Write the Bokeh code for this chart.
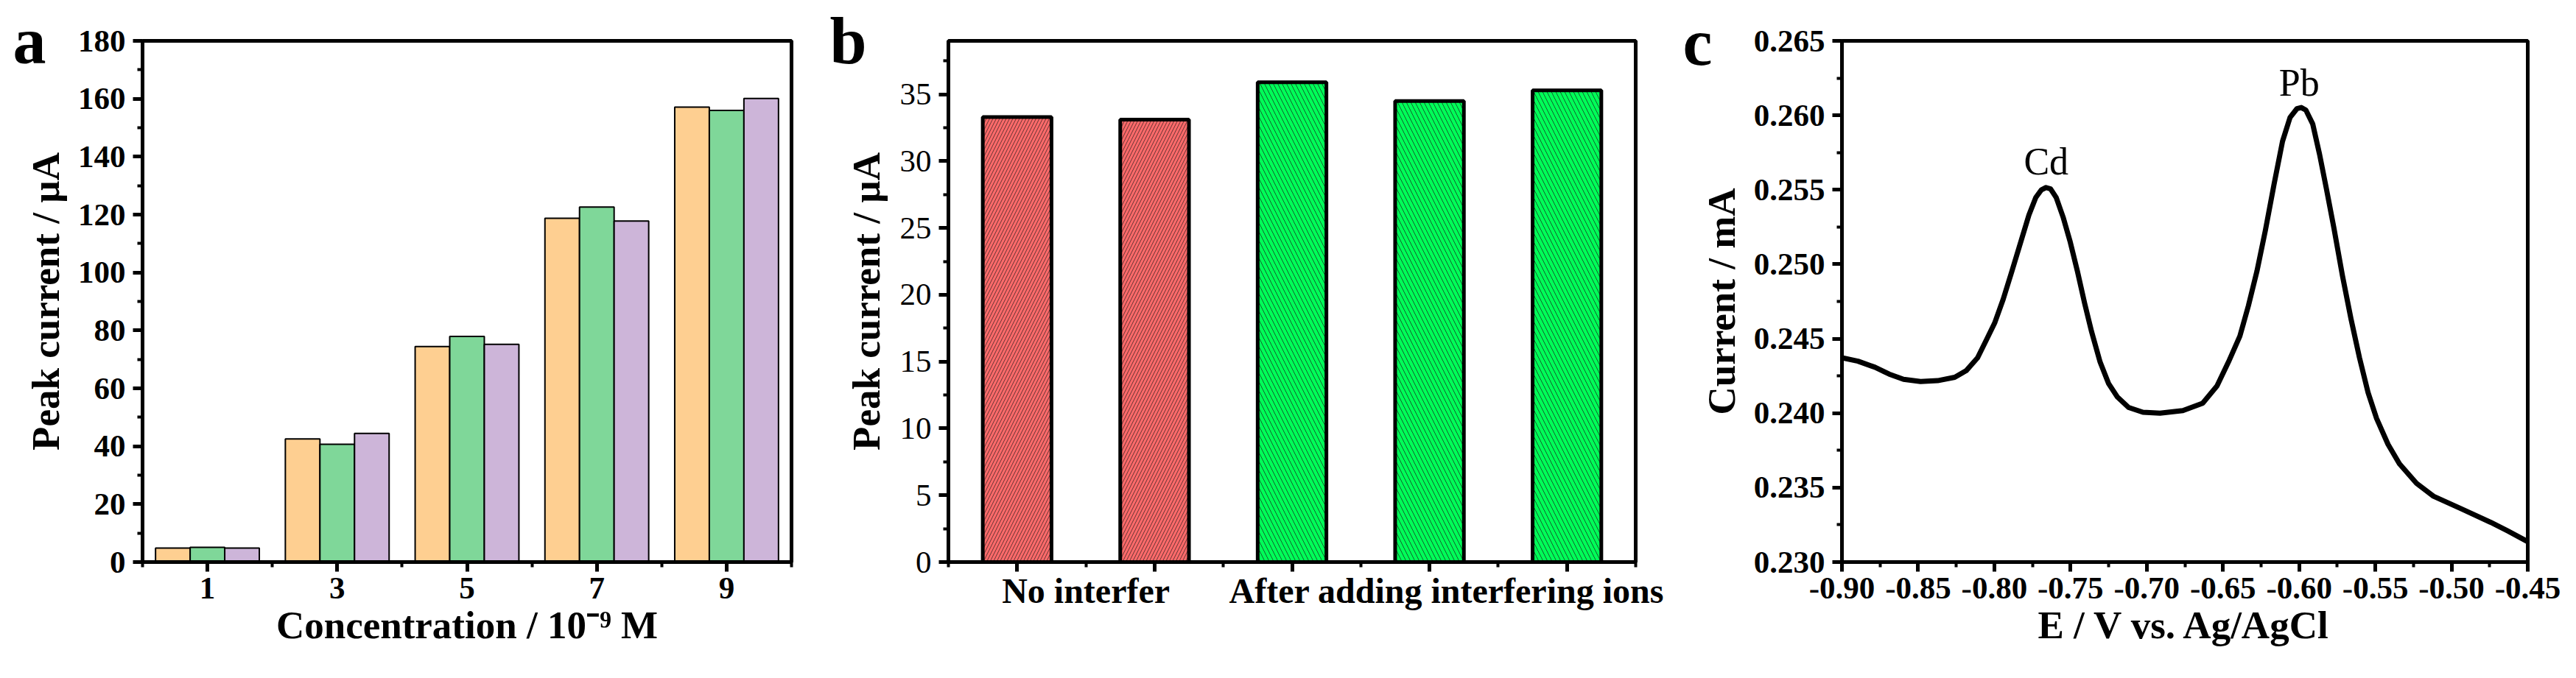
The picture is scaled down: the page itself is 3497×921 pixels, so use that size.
from bokeh.plotting import figure
from bokeh.layouts import row
from bokeh.models import Range1d, FixedTicker, NumeralTickFormatter, Label, LinearAxis
from bokeh.transform import dodge
from bokeh.embed import file_html
from bokeh.resources import INLINE

FONT = "Liberation Serif"

# ---------------- Panel a data ----------------
conc = [1, 3, 5, 7, 9]
conc_labels = {1: "1", 3: "3", 5: "5", 7: "7", 9: "9"}
series_orange = [4.8, 42.5, 74.4, 118.7, 157.1]
series_green = [5.1, 40.7, 77.9, 122.6, 156.0]
series_purple = [4.8, 44.4, 75.2, 117.8, 160.1]
a_yticks = [0, 20, 40, 60, 80, 100, 120, 140, 160, 180]
a_yminor = [10, 30, 50, 70, 90, 110, 130, 150, 170]
a_xminor = [0, 2, 4, 6, 8, 10]

# ---------------- Panel b data ----------------
b_pos = [1, 2, 3, 4, 5]
b_vals = [33.3, 33.1, 35.9, 34.5, 35.3]
b_colors = ["#FF6A6A", "#FF6A6A", "#00FF58", "#00FF58", "#00FF58"]
b_hatch = ["/", "/", "\\", "\\", "\\"]
b_hatch_scale = [9, 9, 12, 12, 12]
b_group_labels = ["No interfer", "After adding interfering ions"]
b_group_pos = [1.5, 4.125]
b_yticks = [0, 5, 10, 15, 20, 25, 30, 35]
b_yminor = [2.5, 7.5, 12.5, 17.5, 22.5, 27.5, 32.5, 37.5]
b_xminor = [0.5, 1.5, 2.5, 3.5, 4.5, 5.5]

# ---------------- Panel c data ----------------
E = [-0.9000, -0.8895, -0.8783, -0.8690, -0.8596, -0.8484, -0.8372, -0.8260,
     -0.8185, -0.8110, -0.8054, -0.7998, -0.7942, -0.7885, -0.7829, -0.7773,
     -0.7728, -0.7691, -0.7661, -0.7631, -0.7594, -0.7549, -0.7504, -0.7455,
     -0.7407, -0.7362, -0.7306, -0.7250, -0.7194, -0.7119, -0.7025, -0.6913,
     -0.6763, -0.6633, -0.6539, -0.6464, -0.6389, -0.6333, -0.6277, -0.6221,
     -0.6165, -0.6109, -0.6060, -0.6015, -0.5986, -0.5956, -0.5911, -0.5866,
     -0.5821, -0.5772, -0.5716, -0.5660, -0.5604, -0.5548, -0.5492, -0.5417,
     -0.5342, -0.5230, -0.5118, -0.4931, -0.4744, -0.4632, -0.4500]
I = [0.24372, 0.24349, 0.24308, 0.24262, 0.24227, 0.24212, 0.24218, 0.24241,
     0.24285, 0.24372, 0.24488, 0.24605, 0.24765, 0.24953, 0.25142, 0.25331,
     0.25448, 0.25500, 0.25515, 0.25506, 0.25448, 0.25317, 0.25157, 0.24953,
     0.24735, 0.24547, 0.24343, 0.24198, 0.24110, 0.24038, 0.24006, 0.24000,
     0.24017, 0.24067, 0.24183, 0.24343, 0.24517, 0.24721, 0.24953, 0.25230,
     0.25535, 0.25826, 0.25985, 0.26044, 0.26052, 0.26035, 0.25942, 0.25738,
     0.25506, 0.25244, 0.24924, 0.24634, 0.24372, 0.24139, 0.23965, 0.23791,
     0.23660, 0.23529, 0.23442, 0.23355, 0.23267, 0.23209, 0.23137]
c_xticks = [-0.90, -0.85, -0.80, -0.75, -0.70, -0.65, -0.60, -0.55, -0.50, -0.45]
c_xminor = [-0.875, -0.825, -0.775, -0.725, -0.675, -0.625, -0.575, -0.525, -0.475]
c_yticks = [0.230, 0.235, 0.240, 0.245, 0.250, 0.255, 0.260, 0.265]
c_yminor = [0.2325, 0.2375, 0.2425, 0.2475, 0.2525, 0.2575, 0.2625]
peak_names = ["Cd", "Pb"]
peak_pos = [(-0.766, 0.2569), (-0.600, 0.2622)]

H = 905


def style(p, xlabel, ylabel, bold_ticks=True):
    p.background_fill_color = "white"
    p.border_fill_color = "white"
    p.outline_line_color = "black"
    p.outline_line_width = 5
    p.outline_line_alpha = 1
    p.grid.visible = False
    p.xaxis.axis_label = xlabel
    p.yaxis.axis_label = ylabel
    for ax in [p.xaxis[0], p.yaxis[0]]:
        ax.axis_line_width = 5
        ax.axis_line_color = "black"
        ax.major_tick_line_width = 5
        ax.minor_tick_line_width = 4
        ax.major_tick_line_color = "black"
        ax.minor_tick_line_color = "black"
        ax.major_tick_out = 13
        ax.major_tick_in = 0
        ax.minor_tick_out = 7
        ax.minor_tick_in = 0
        ax.major_label_text_font = FONT
        ax.major_label_text_font_style = "bold" if bold_ticks else "normal"
        ax.major_label_text_font_size = "43px"
        ax.major_label_text_color = "black"
        ax.axis_label_text_font = FONT
        ax.axis_label_text_font_style = "bold"
        ax.axis_label_text_font_size = "53px"
        ax.axis_label_text_color = "black"
    p.yaxis.major_label_standoff = 10
    p.xaxis.major_label_standoff = 8


def panel_letter(p, letter, offset, standoff):
    p.title.text = letter
    p.title.text_font = FONT
    p.title.text_font_style = "bold"
    p.title.text_font_size = "90px"
    p.title.text_color = "black"
    p.title.align = "left"
    p.title.vertical_align = "bottom"
    p.title.offset = offset
    p.title.standoff = standoff


# ---------------- Panel a ----------------
p1 = figure(width=1110, height=H, x_range=Range1d(0, 10), y_range=Range1d(0, 180),
            output_backend="svg", toolbar_location=None,
            min_border_left=193, min_border_right=36, min_border_top=52, min_border_bottom=142)
src = dict(x=conc, o=series_orange, g=series_green, pu=series_purple)
w = 0.533
p1.vbar(x=dodge("x", -w, range=p1.x_range), top="o", width=w, source=src,
        fill_color="#FECF91", line_color="black", line_width=2)
p1.vbar(x=dodge("x", 0, range=p1.x_range), top="g", width=w, source=src,
        fill_color="#7FD799", line_color="black", line_width=2)
p1.vbar(x=dodge("x", w, range=p1.x_range), top="pu", width=w, source=src,
        fill_color="#CDB5D9", line_color="black", line_width=2)
style(p1, "Concentration / 10\u207b\u2079 M", "Peak current / \u00b5A")
p1.xaxis.ticker = FixedTicker(ticks=conc, minor_ticks=a_xminor)
p1.xaxis.major_label_overrides = conc_labels
p1.yaxis.ticker = FixedTicker(ticks=a_yticks, minor_ticks=a_yminor)
p1.xaxis.axis_label_standoff = 4
p1.yaxis.axis_label_standoff = 12
panel_letter(p1, "a", -176, -99)

# ---------------- Panel b ----------------
p2 = figure(width=1167, height=H, x_range=Range1d(0.5, 5.5), y_range=Range1d(0, 39),
            output_backend="svg", toolbar_location=None,
            min_border_left=177, min_border_right=57, min_border_top=53, min_border_bottom=142)
srcb = dict(x=b_pos, top=b_vals, color=b_colors, hatch=b_hatch, hs=b_hatch_scale)
p2.vbar(x="x", top="top", width=0.5, source=srcb, fill_color="color", line_color="black",
        line_width=5, hatch_pattern="hatch", hatch_scale="hs", hatch_color="#1a1a1a",
        hatch_weight=0.7)
style(p2, "", "Peak current / \u00b5A", bold_ticks=False)
p2.xaxis.ticker = FixedTicker(ticks=b_pos, minor_ticks=b_xminor)
p2.xaxis.major_label_overrides = {k: " " for k in b_pos}
p2.xaxis.major_label_text_font_size = "1px"
p2.xaxis.major_label_standoff = 0
p2.yaxis.ticker = FixedTicker(ticks=b_yticks, minor_ticks=b_yminor)
p2.yaxis.axis_label_standoff = 14
grp_axis = LinearAxis(ticker=FixedTicker(ticks=b_group_pos),
                      major_label_overrides=dict(zip(b_group_pos, b_group_labels)),
                      axis_line_color=None, major_tick_line_color=None,
                      minor_tick_line_color=None, major_tick_out=0, major_tick_in=0,
                      major_label_standoff=-5, major_label_text_font=FONT,
                      major_label_text_font_style="bold", major_label_text_font_size="48px",
                      major_label_text_color="black")
p2.add_layout(grp_axis, "below")
panel_letter(p2, "b", -161, -99)

# ---------------- Panel c ----------------
p3 = figure(width=1204, height=H, x_range=Range1d(-0.90, -0.45), y_range=Range1d(0.230, 0.265),
            output_backend="svg", toolbar_location=None,
            min_border_left=223, min_border_right=50, min_border_top=55, min_border_bottom=142)
p3.line(E, I, line_width=7, line_color="black", line_join="round")
style(p3, "E / V vs. Ag/AgCl", "Current / mA")
p3.xaxis.ticker = FixedTicker(ticks=c_xticks, minor_ticks=c_xminor)
p3.xaxis.formatter = NumeralTickFormatter(format="0.00")
p3.yaxis.ticker = FixedTicker(ticks=c_yticks, minor_ticks=c_yminor)
p3.yaxis.formatter = NumeralTickFormatter(format="0.000")
p3.xaxis.axis_label_standoff = 4
p3.yaxis.axis_label_standoff = 12
for name, (xp, yp) in zip(peak_names, peak_pos):
    p3.add_layout(Label(x=xp, y=yp, text=name, text_font=FONT, text_font_size="52px",
                        text_align="center", text_baseline="alphabetic", text_color="black"))
panel_letter(p3, "c", -216, -103)

layout = row(p1, p2, p3)
open("out.html", "w").write(file_html(layout, INLINE))
